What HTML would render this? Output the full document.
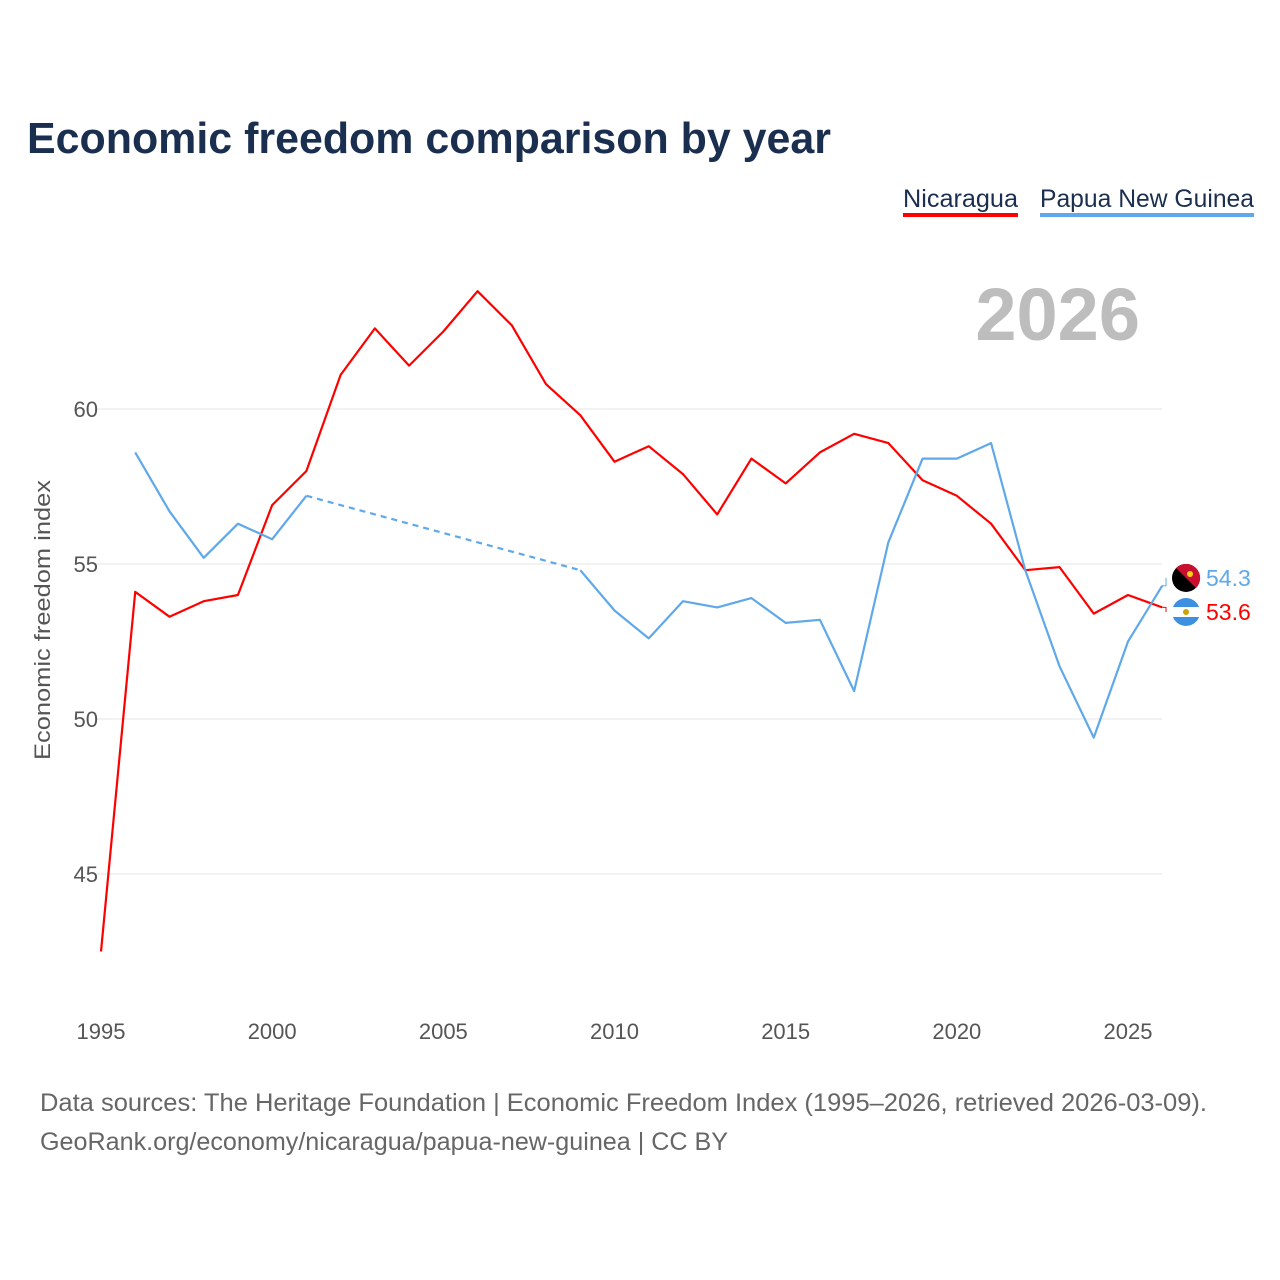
<!DOCTYPE html>
<html><head><meta charset="utf-8">
<style>
html,body{margin:0;padding:0;background:#fff;width:1280px;height:1280px;overflow:hidden;font-family:"Liberation Sans",sans-serif;}
svg{display:block}
</style></head>
<body>
<svg id="chart" width="1280" height="1280">
  <text x="27" y="153" font-size="44" font-weight="bold" fill="#1a2e4f" textLength="804" lengthAdjust="spacingAndGlyphs">Economic freedom comparison by year</text>
  <g>
    <text x="903" y="207" font-size="25" fill="#1a2e4f" textLength="115" lengthAdjust="spacingAndGlyphs">Nicaragua</text>
    <rect x="903" y="213" width="115" height="4" fill="#ff0000"/>
  </g>
  <g>
    <text x="1040" y="207" font-size="25" fill="#1a2e4f" textLength="214" lengthAdjust="spacingAndGlyphs">Papua New Guinea</text>
    <rect x="1040" y="213" width="214" height="4" fill="#5fa8ea"/>
  </g>
  <text x="1140" y="340" text-anchor="end" font-size="74" font-weight="bold" fill="#bdbdbd">2026</text>
  <text transform="translate(50,620) rotate(-90)" text-anchor="middle" font-size="22" fill="#555" textLength="280" lengthAdjust="spacingAndGlyphs">Economic freedom index</text>
  <g id="grid"></g><g id="marks"></g>
  <text x="40" y="1111" font-size="25" fill="#666" textLength="1167" lengthAdjust="spacingAndGlyphs">Data sources: The Heritage Foundation | Economic Freedom Index (1995–2026, retrieved 2026-03-09).</text>
  <text x="40" y="1150" font-size="25" fill="#666" textLength="688" lengthAdjust="spacingAndGlyphs">GeoRank.org/economy/nicaragua/papua-new-guinea | CC BY</text>
</svg>
<script>
const years = [1995,1996,1997,1998,1999,2000,2001,2002,2003,2004,2005,2006,2007,2008,2009,2010,2011,2012,2013,2014,2015,2016,2017,2018,2019,2020,2021,2022,2023,2024,2025,2026];
const nicaragua = [42.5,54.1,53.3,53.8,54.0,56.9,58.0,61.1,62.6,61.4,62.5,63.8,62.7,60.8,59.8,58.3,58.8,57.9,56.6,58.4,57.6,58.6,59.2,58.9,57.7,57.2,56.3,54.8,54.9,53.4,54.0,53.6];
const png = [null,58.6,56.7,55.2,56.3,55.8,57.2,null,null,null,null,null,null,null,54.8,53.5,52.6,53.8,53.6,53.9,53.1,53.2,50.9,55.7,58.4,58.4,58.9,54.8,51.7,49.4,52.5,54.3];
const yTicks = [45,50,55,60];
const xTicks = [1995,2000,2005,2010,2015,2020,2025];

const NS="http://www.w3.org/2000/svg";
const xS = y => 101 + (y-1995)*(1027/30);
const yS = v => 409 + (60-v)*31;
const grid=document.getElementById('grid'), marks=document.getElementById('marks');
function mk(tag,attrs,parent){const e=document.createElementNS(NS,tag);for(const k in attrs)e.setAttribute(k,attrs[k]);parent.appendChild(e);return e;}

yTicks.forEach(t=>{
  const l=mk('line',{x1:95,x2:1162,y1:yS(t),y2:yS(t),stroke:'#e6e6e6','stroke-width':1},grid);
  
  
  const tx=mk('text',{x:98,y:yS(t)+8,'text-anchor':'end','font-size':22,fill:'#555'},grid);
  tx.textContent=t;
  
  
});
xTicks.forEach(t=>{
  const tx=mk('text',{x:xS(t),y:1039,'text-anchor':'middle','font-size':22,fill:'#555'},grid);
  tx.textContent=t;
  
  
});

function drawSeries(vals,color,name){
  let segs=[],cur=[];
  vals.forEach((v,i)=>{ if(v==null){ if(cur.length)segs.push(cur); cur=[]; } else cur.push([xS(years[i]),yS(v)]); });
  if(cur.length)segs.push(cur);
  segs.forEach((s,k)=>{
    const p=mk('polyline',{points:s.map(q=>q.join(',')).join(' '),fill:'none',stroke:color,'stroke-width':2.2,'stroke-linejoin':'round'},marks);
    
    
    if(k<segs.length-1){
      const a=s[s.length-1], b=segs[k+1][0];
      const d=mk('line',{x1:a[0],y1:a[1],x2:b[0],y2:b[1],stroke:color,'stroke-width':2.2,'stroke-dasharray':'6,5'},marks);
      
      
    }
  });
}
drawSeries(nicaragua,'#ff0000','nicaragua');
drawSeries(png,'#5fa8ea','papua-new-guinea');

function endLabel(vals,color,name,ly,flag){
  const v=vals[vals.length-1], x=xS(years[years.length-1]), y=yS(v);
  const c=mk('polyline',{points:`${x},${y} 1166,${y} 1166,${ly}`,fill:'none',stroke:color,'stroke-width':1},marks);
  
  
  const g=mk('g',{},marks);
  
  
  flag(g,1186,ly);
  const t=mk('text',{x:1206,y:ly+8,'font-size':23,fill:color},marks);
  t.textContent=v.toFixed(1);
  
  
}
endLabel(png,'#5fa8ea','papua-new-guinea',578,(g,cx,cy)=>{
  mk('circle',{cx,cy,r:14,fill:'#000'},g);
  mk('path',{d:`M${cx-10},${cy-10} L${cx+10},${cy+10} A14,14 0 0 0 ${cx-10},${cy-10}Z`,fill:'#c8102e'},g);
  mk('circle',{cx:cx+4,cy:cy-4,r:3,fill:'#fcd116'},g);
});
endLabel(nicaragua,'#ff0000','nicaragua',612,(g,cx,cy)=>{
  mk('circle',{cx,cy,r:14,fill:'#3d8fe0'},g);
  mk('rect',{x:cx-14,y:cy-5,width:28,height:10,fill:'#fff'},g);
  mk('circle',{cx,cy,r:3,fill:'#c9a400'},g);
});
</script>
</body></html>
